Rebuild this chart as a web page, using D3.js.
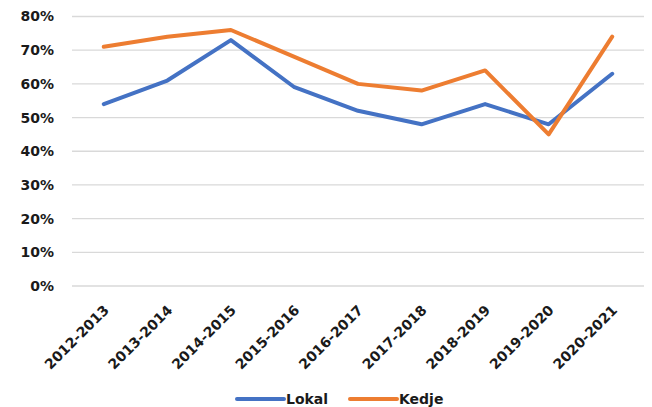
<!DOCTYPE html>
<html>
<head>
<meta charset="utf-8">
<script src="https://cdn.jsdelivr.net/npm/d3@7"></script>
<style>
  body { margin: 0; background: #fff; }
  text { font-family: "DejaVu Sans", Verdana, sans-serif; font-weight: bold; fill: #1a1a1a; }
</style>
</head>
<body>
<svg id="chart" width="652" height="407"></svg>
<script>
const categories = ['2012-2013', '2013-2014', '2014-2015', '2015-2016', '2016-2017',
  '2017-2018', '2018-2019', '2019-2020', '2020-2021'];
const lokal = [0.54, 0.61, 0.73, 0.59, 0.52, 0.48, 0.54, 0.48, 0.63];
const kedje = [0.71, 0.74, 0.76, 0.68, 0.60, 0.58, 0.64, 0.45, 0.74];
const yTicks = [0, 0.1, 0.2, 0.3, 0.4, 0.5, 0.6, 0.7, 0.8];

const series = [
  {name: 'Lokal', values: lokal, color: '#4472C4'},
  {name: 'Kedje', values: kedje, color: '#ED7D31'},
];

const svg = d3.select('#chart');
const plotLeft = 72;
const plotRight = 644;
const plotTop = 16.5;
const plotBottom = 286;

const x = d3.scaleBand().domain(categories).range([plotLeft, plotRight]);
const y = d3.scaleLinear().domain([0, 0.8]).range([plotBottom, plotTop]);

// gridlines
svg.append('g')
    .selectAll('line')
    .data(yTicks)
    .join('line')
    .attr('x1', plotLeft)
    .attr('x2', plotRight)
    .attr('y1', (d) => y(d))
    .attr('y2', (d) => y(d))
    .attr('stroke', '#d9d9d9')
    .attr('stroke-width', 1.3);

// y labels
const yAxis = d3.axisLeft(y)
    .tickValues(yTicks)
    .tickFormat(d3.format('.0%'))
    .tickSize(0)
    .tickPadding(0);
const gy = svg.append('g')
    .attr('transform', `translate(54,0)`)
    .call(yAxis);
gy.select('.domain').remove();
gy.selectAll('text')
    .attr('font-size', 14)
    .attr('font-family', '"DejaVu Sans", Verdana, sans-serif')
    .attr('font-weight', 'bold')
    .attr('fill', '#1a1a1a');

// x labels, rotated
svg.append('g')
    .selectAll('text')
    .data(categories)
    .join('text')
    .attr('transform', (d) => `translate(${x(d) + x.bandwidth() / 2 + 6},311) rotate(-45)`)
    .attr('text-anchor', 'end')
    .attr('font-size', 14)
    .text((d) => d);

// lines
const line = d3.line()
    .x((d, i) => x(categories[i]) + x.bandwidth() / 2)
    .y((d) => y(d));

svg.append('g')
    .selectAll('path')
    .data(series)
    .join('path')
    .attr('d', (d) => line(d.values))
    .attr('fill', 'none')
    .attr('stroke', (d) => d.color)
    .attr('stroke-width', 4)
    .attr('stroke-linejoin', 'round')
    .attr('stroke-linecap', 'round');

// legend
const legend = svg.append('g')
    .selectAll('g')
    .data(series)
    .join('g')
    .attr('transform', (d, i) => `translate(${237 + i * 113},399)`);
legend.append('line')
    .attr('x1', 0)
    .attr('x2', 47)
    .attr('stroke', (d) => d.color)
    .attr('stroke-width', 4)
    .attr('stroke-linecap', 'round');
legend.append('text')
    .attr('x', 49)
    .attr('dy', '0.36em')
    .attr('font-size', 14)
    .text((d) => d.name);
</script>
</body>
</html>
